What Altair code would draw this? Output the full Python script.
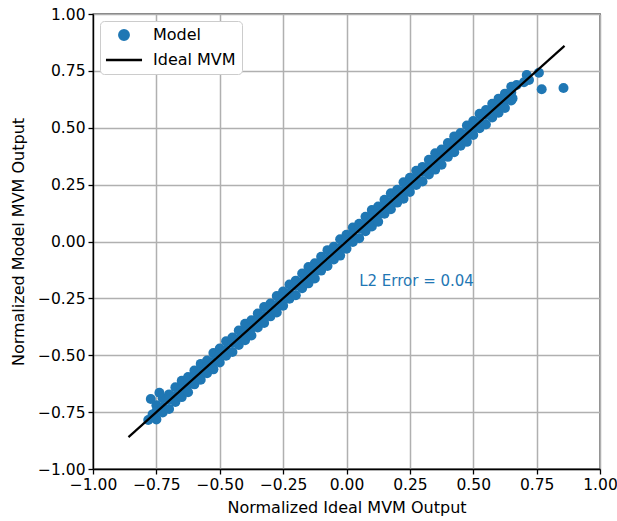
import altair as alt
import pandas as pd

# Dense band of model outputs along the diagonal (ideal x, three rows of model y)
band_x = [-0.750, -0.725, -0.700, -0.675, -0.650, -0.625, -0.600, -0.575, -0.550, -0.525,
          -0.500, -0.475, -0.450, -0.425, -0.400, -0.375, -0.350, -0.325, -0.300, -0.275,
          -0.250, -0.225, -0.200, -0.175, -0.150, -0.125, -0.100, -0.075, -0.050, -0.025,
          0.000, 0.025, 0.050, 0.075, 0.100, 0.125, 0.150, 0.175, 0.200, 0.225,
          0.250, 0.275, 0.300, 0.325, 0.350, 0.375, 0.400, 0.425, 0.450, 0.475,
          0.500, 0.525, 0.550, 0.575, 0.600, 0.625, 0.650]
band_upper_y = [-0.720, -0.689, -0.672, -0.641, -0.612, -0.596, -0.567, -0.538, -0.523, -0.490,
                -0.470, -0.439, -0.422, -0.391, -0.362, -0.346, -0.317, -0.288, -0.273, -0.240,
                -0.220, -0.189, -0.172, -0.141, -0.112, -0.096, -0.067, -0.038, -0.023, 0.010,
                0.030, 0.061, 0.078, 0.109, 0.138, 0.154, 0.183, 0.212, 0.227, 0.260,
                0.280, 0.311, 0.328, 0.359, 0.388, 0.404, 0.433, 0.462, 0.477, 0.510,
                0.530, 0.561, 0.578, 0.605, 0.628, 0.650, 0.680]
band_mid_y = [-0.746, -0.728, -0.694, -0.680, -0.648, -0.631, -0.595, -0.577, -0.547, -0.529,
              -0.496, -0.478, -0.444, -0.430, -0.398, -0.381, -0.345, -0.327, -0.297, -0.279,
              -0.246, -0.228, -0.194, -0.180, -0.148, -0.131, -0.095, -0.077, -0.047, -0.029,
              0.004, 0.022, 0.056, 0.070, 0.102, 0.119, 0.155, 0.173, 0.203, 0.221,
              0.254, 0.272, 0.306, 0.320, 0.352, 0.369, 0.405, 0.423, 0.453, 0.471,
              0.504, 0.522, 0.556, 0.570, 0.602, 0.619, 0.655]
band_lower_y = [-0.782, -0.752, -0.736, -0.705, -0.684, -0.663, -0.628, -0.608, -0.579, -0.562,
                -0.532, -0.502, -0.486, -0.455, -0.434, -0.413, -0.378, -0.358, -0.329, -0.312,
                -0.282, -0.252, -0.236, -0.205, -0.184, -0.163, -0.128, -0.108, -0.079, -0.062,
                -0.032, -0.002, 0.014, 0.045, 0.066, 0.087, 0.122, 0.142, 0.171, 0.188,
                0.218, 0.248, 0.264, 0.295, 0.316, 0.337, 0.372, 0.392, 0.421, 0.438,
                0.468, 0.498, 0.514, 0.545, 0.566, 0.587, 0.620]

# Points at the ends of the range, including the visible outliers
end_x = [-0.782, -0.772, -0.738, -0.765, 0.655, 0.671, 0.700, 0.711, 0.720, 0.759, 0.770, 0.856]
end_y = [-0.785, -0.692, -0.665, -0.760, 0.629, 0.688, 0.700, 0.732, 0.710, 0.742, 0.669, 0.675]

# Ideal line endpoints
line_x = [-0.86, 0.86]
line_y = [-0.86, 0.86]

series_names = ["Model", "Ideal MVM"]
series_colors = ["#1f77b4", "#000000"]
annotation_text = ["L2 Error = 0.04"]
annotation_x = [0.05]
annotation_y = [-0.175]
tick_values = [-1.0, -0.75, -0.5, -0.25, 0.0, 0.25, 0.5, 0.75, 1.0]

pts = pd.DataFrame({
    "x": band_x * 3 + end_x,
    "y": band_upper_y + band_mid_y + band_lower_y + end_y,
})
pts["series"] = "Model"
ln = pd.DataFrame({"x": line_x, "y": line_y, "series": "Ideal MVM"})
ann = pd.DataFrame({"x": annotation_x, "y": annotation_y, "t": annotation_text})

xscale = alt.Scale(domain=[-1, 1], nice=False, zero=False)
yscale = alt.Scale(domain=[-1, 1], nice=False, zero=False)
xaxis = alt.Axis(title="Normalized Ideal MVM Output", values=tick_values, format=".2f", titlePadding=7,
                 labelOverlap=False, labelFlush=False, labelBound=False)
yaxis = alt.Axis(title="Normalized Model MVM Output", values=tick_values, format=".2f", titlePadding=11,
                 labelOverlap=False, labelFlush=False, labelBound=False)

legend = alt.Legend(
    title=None, orient="top-left", offset=7, padding=6,
    fillColor="white", strokeColor="#cccccc", cornerRadius=4,
    labelFontSize=16, labelFont="DejaVu Sans", labelColor="black",
    symbolSize=90, symbolStrokeWidth=2.4, symbolOpacity=1, rowPadding=7,
    symbolOffset=10, labelOffset=21,
)
color = alt.Color("series:N", scale=alt.Scale(domain=series_names, range=series_colors), legend=legend)
shape = alt.Shape("series:N", scale=alt.Scale(domain=series_names, range=["circle", "M-3.8,0H3.8"]),
                  legend=legend)

points = alt.Chart(pts).mark_point(filled=True, size=100, opacity=1).encode(
    x=alt.X("x:Q", scale=xscale, axis=xaxis),
    y=alt.Y("y:Q", scale=yscale, axis=yaxis),
    color=color,
    shape=shape,
)
line = alt.Chart(ln).mark_line(strokeWidth=2.2).encode(
    x=alt.X("x:Q", scale=xscale),
    y=alt.Y("y:Q", scale=yscale),
    color=color,
)
text = alt.Chart(ann).mark_text(align="left", baseline="middle", color="#1f77b4", fontSize=15,
                                font="DejaVu Sans").encode(
    x=alt.X("x:Q", scale=xscale),
    y=alt.Y("y:Q", scale=yscale),
    text="t:N",
)

chart = alt.layer(points, line, text).properties(
    width=507, height=455,
    background="white",
    autosize=alt.AutoSizeParams(type="none"),
    padding={"left": 93, "top": 14, "right": 17, "bottom": 52},
).configure_axis(
    grid=True, gridColor="#b0b0b0", gridWidth=1.5,
    domainColor="black", domainWidth=1.3,
    tickColor="black", tickSize=5, tickWidth=1.3,
    labelFont="DejaVu Sans", labelFontSize=15.5, labelColor="black", labelPadding=3,
    titleFont="DejaVu Sans", titleFontSize=16, titleColor="black", titleFontWeight="normal",
).configure_view(
    stroke="black", strokeWidth=1.3,
)

chart.save("out.html", embed_options={"renderer": "svg", "actions": False})
